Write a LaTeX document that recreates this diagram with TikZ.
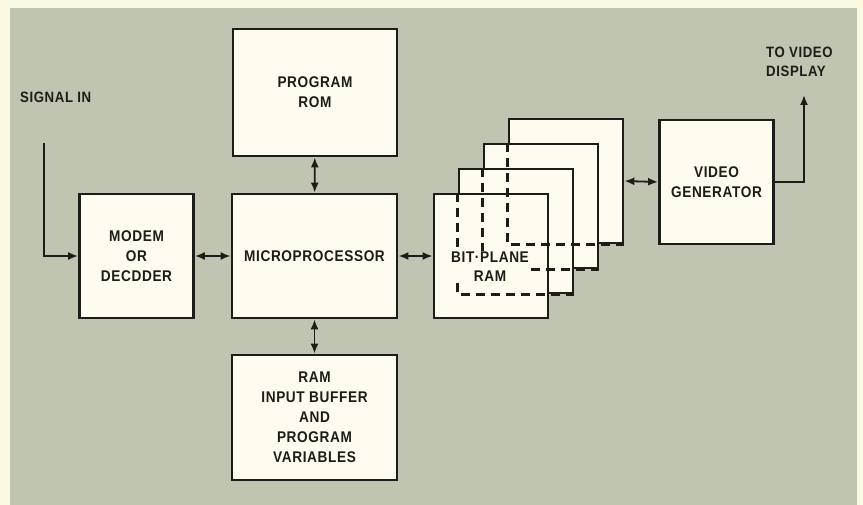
\documentclass[tikz,border=0pt]{standalone}
\usepackage{fontspec}
\setmainfont{Liberation Sans}
\newfontfamily\diagfont[FakeStretch=0.88, LetterSpace=4]{Liberation Sans Bold}
\usetikzlibrary{arrows.meta}
\definecolor{panel}{RGB}{192,197,178}
\definecolor{paper}{RGB}{250,249,226}
\definecolor{boxfill}{RGB}{253,252,238}
\definecolor{ink}{RGB}{30,28,24}

\begin{document}
\begin{tikzpicture}[x=1pt, y=-1pt,
    block/.style={rectangle, draw=ink, fill=boxfill, line width=2.8pt, align=center, minimum width=#1, minimum height=124pt, font=\diagfont\fontsize{15.5}{20}\selectfont, text=ink, inner sep=0pt},
    block/.default=114pt,
    plane/.style={rectangle, draw=ink, fill=boxfill, line width=2.8pt, minimum width=114pt, minimum height=124pt, inner sep=0pt},
    hidden/.style={draw=ink, line width=2.4pt, dash pattern=on 9pt off 6pt},
    label/.style={font=\diagfont\fontsize{15}{19}\selectfont, text=ink, align=left, inner sep=0pt},
    arrow/.style={-{Latex[length=10pt,width=8pt]}, draw=ink, line width=1.8pt},
    both/.style={{Latex[length=10pt,width=8pt]}-{Latex[length=10pt,width=8pt]}, draw=ink, line width=1.8pt}
]
    % background
    \fill[paper] (0,0) rectangle (863,505);
    \fill[panel] (10,8) rectangle (857,505);
    \useasboundingbox (0,0) rectangle (863,505);

    \node[block=164pt, minimum height=127pt] (rom) at (315,92.5) {PROGRAM\\ROM};
    \node[block=165pt] (cpu) at (314.5,256) {MICROPROCESSOR};
    \node[block=165pt, minimum height=125pt] (ram) at (314.5,417.5) {RAM\\INPUT BUFFER\\AND\\PROGRAM\\VARIABLES};
    \node[block] (modem) at (136.5,256) {MODEM\\OR\\DECDDER};
    \node[block] (video) at (716.5,182) {VIDEO\\GENERATOR};

    % bit planes, back to front
    \node[plane] (p4) at (566,181) {};
    \node[plane] (p3) at (541,206) {};
    \node[plane] (p2) at (516,231) {};
    \node[plane] (p1) at (491,256) {};
    \draw[hidden] (p4.north west |- p3.north) -- (p4.south west) -- (p4.south east);
    \draw[hidden] (p3.north west |- p2.north) -- (p3.south west) -- (p3.south east);
    \draw[hidden] (p2.north west |- p1.north) -- (p2.south west) -- (p2.south east);
    \node[font=\diagfont\fontsize{15.5}{19}\selectfont, text=ink, align=center, fill=boxfill, inner sep=1pt] (bpram) at (490,267) {BIT·PLANE\\RAM};

    \node[label, anchor=west] (sig) at (20,97) {SIGNAL IN};
    \node[label, anchor=west] (disp) at (766,62) {TO VIDEO\\DISPLAY};
    \coordinate (sigtop) at (44,143);
    \coordinate (disptop) at (804,95);

    \draw[arrow] (sigtop) |- (modem.west);
    \draw[both] (modem) -- (cpu);
    \draw[both] (rom) -- (cpu);
    \draw[both] (cpu) -- (ram);
    \draw[both] (cpu.east) -- (p1.west);
    \draw[both] (p4.east) -- (video.west);
    \draw[arrow] (video.east) -| (disptop);
\end{tikzpicture}
\end{document}
